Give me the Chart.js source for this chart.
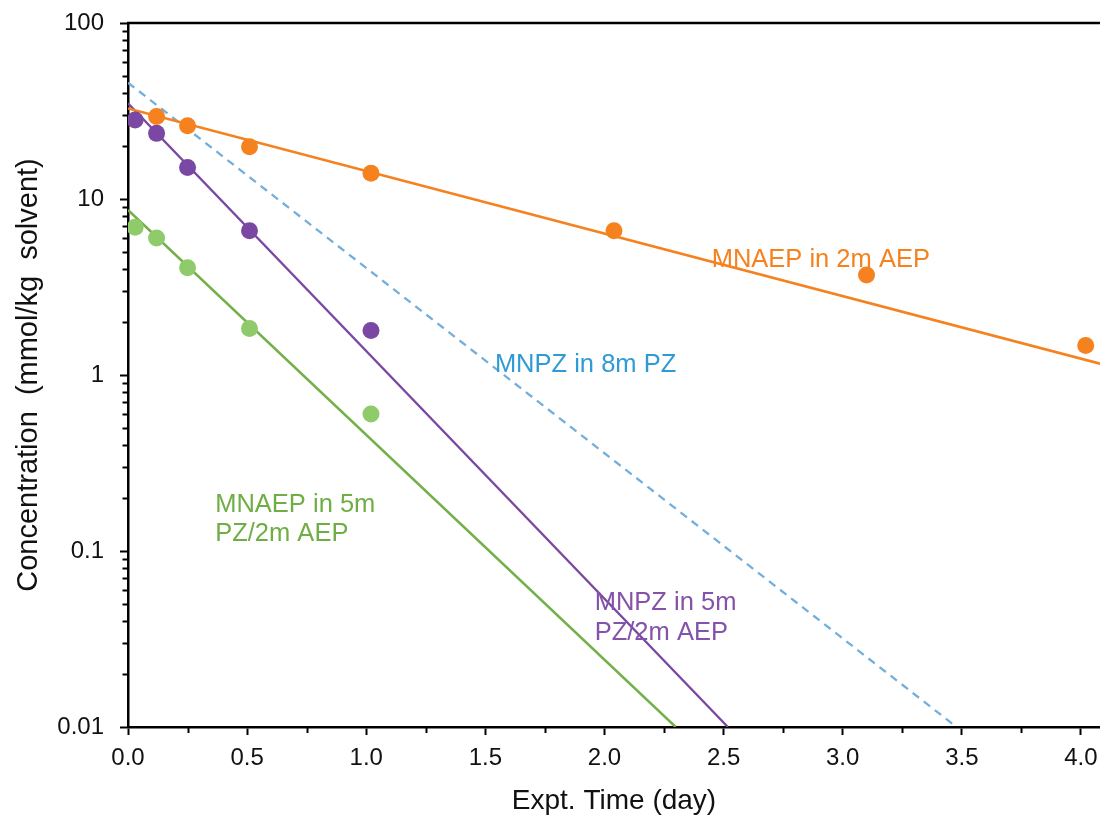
<!DOCTYPE html>
<html>
<head>
<meta charset="utf-8">
<script src="https://cdn.jsdelivr.net/npm/chart.js@4.4.1/dist/chart.umd.min.js"></script>
<style>
  html, body { margin: 0; padding: 0; background: #fff; }
  #wrap { width: 1100px; height: 816px; }
</style>
</head>
<body>
<div id="wrap"><canvas id="decayChart" width="1100" height="816"></canvas></div>
<script>
// measured points
const daysAep = [0.12, 0.25, 0.51, 1.02, 2.04, 3.10, 4.02];
const mnaepInAep = [29.4, 26.1, 19.8, 14.0, 6.6, 3.7, 1.47];
const daysBlend = [0.03, 0.12, 0.25, 0.51, 1.02];
const mnpzInBlend = [28.1, 23.6, 15.1, 6.6, 1.79];
const mnaepInBlend = [6.9, 6.0, 4.07, 1.84, 0.60];

// first-order fit lines (start / end)
const fitAepX = [0, 4.08];
const fitAepY = [32.7, 1.16];
const fitMnpzBlendX = [0, 2.518];
const fitMnpzBlendY = [35.0, 0.01];
const fitMnaepBlendX = [0, 2.299];
const fitMnaepBlendY = [8.66, 0.01];
const fitMnpzPzX = [0, 3.478];
const fitMnpzPzY = [45.8, 0.01];

// axis ticks
const xTicks = [0, 0.25, 0.5, 0.75, 1, 1.25, 1.5, 1.75, 2, 2.25, 2.5, 2.75, 3, 3.25, 3.5, 3.75, 4];
const yDecades = [0.01, 0.1, 1, 10, 100];

// curve labels
const labelText = [
    ["MNAEP in 2m AEP"],
    ["MNPZ in 8m PZ"],
    ["MNAEP in 5m", "PZ/2m AEP"],
    ["MNPZ in 5m", "PZ/2m AEP"]
];
const labelDay = [2.45, 1.54, 0.366, 1.959];
const labelConc = [4.11, 1.045, 0.1666, 0.0462];

const ORANGE = "#F5821F";
const PURPLE = "#7A48A2";
const GREEN_PT = "#8FCB6B";
const GREEN_LN = "#74B04A";
const BLUE_LN = "#74AEDB";
const labelColors = [ORANGE, "#2F9BD5", "#6FAE45", "#8452AA"];

const FONT = "'Liberation Sans', Arial, sans-serif";

const pts = (xs, ys) => xs.map((x, i) => ({ x: x, y: ys[i] }));

function isDecade(v) {
    const l = Math.log10(v);
    return Math.abs(l - Math.round(l)) < 1e-9;
}

const isHalf = v => Math.abs(v * 2 - Math.round(v * 2)) < 1e-9;

function fitLine(xs, ys, color, width, dash) {
    return {
        type: "line",
        data: pts(xs, ys),
        borderColor: color,
        borderWidth: width,
        borderDash: dash || [],
        pointRadius: 0,
        fill: false,
        order: 2
    };
}

function dots(xs, ys, color) {
    return {
        type: "scatter",
        data: pts(xs, ys),
        backgroundColor: color,
        borderColor: color,
        pointRadius: 8.5,
        pointBorderWidth: 0,
        order: 1
    };
}

// short minor ticks, top frame line and curve labels
const extras = {
    id: "extras",
    afterDraw(chart) {
        const ctx = chart.ctx;
        const area = chart.chartArea;
        const xs = chart.scales.x;
        const ys = chart.scales.y;
        ctx.save();
        ctx.strokeStyle = "#000";
        ctx.lineWidth = 2;
        ys.ticks.forEach(t => {
            if (isDecade(t.value)) return;
            const py = Math.round(ys.getPixelForValue(t.value)) + 0.5;
            ctx.beginPath();
            ctx.moveTo(area.left - 5.5, py);
            ctx.lineTo(area.left, py);
            ctx.stroke();
        });
        xs.ticks.forEach(t => {
            if (isHalf(t.value)) return;
            const px = Math.round(xs.getPixelForValue(t.value)) + 0.5;
            ctx.beginPath();
            ctx.moveTo(px, area.bottom);
            ctx.lineTo(px, area.bottom + 6);
            ctx.stroke();
        });
        ctx.lineWidth = 2.5;
        ctx.beginPath();
        ctx.moveTo(area.left - 1, area.top);
        ctx.lineTo(area.right, area.top);
        ctx.stroke();

        ctx.font = "25.5px " + FONT;
        ctx.textAlign = "left";
        ctx.textBaseline = "alphabetic";
        labelText.forEach((lines, i) => {
            const px = xs.getPixelForValue(labelDay[i]);
            const py = ys.getPixelForValue(labelConc[i]);
            ctx.fillStyle = labelColors[i];
            lines.forEach((s, j) => ctx.fillText(s, px, py + j * 29.5));
        });
        ctx.restore();
    }
};

new Chart(document.getElementById("decayChart"), {
    type: "scatter",
    data: {
        datasets: [
            dots(daysAep, mnaepInAep, ORANGE),
            dots(daysBlend, mnpzInBlend, PURPLE),
            dots(daysBlend, mnaepInBlend, GREEN_PT),
            fitLine(fitAepX, fitAepY, ORANGE, 2.6),
            fitLine(fitMnpzBlendX, fitMnpzBlendY, PURPLE, 2.3),
            fitLine(fitMnaepBlendX, fitMnaepBlendY, GREEN_LN, 2.5),
            fitLine(fitMnpzPzX, fitMnpzPzY, BLUE_LN, 2.3, [8, 6])
        ]
    },
    options: {
        responsive: false,
        animation: false,
        layout: { autoPadding: false, padding: { top: 23, right: 0, left: 0, bottom: 0 } },
        plugins: {
            legend: { display: false },
            tooltip: { enabled: false }
        },
        scales: {
            x: {
                type: "linear",
                min: 0,
                max: 4.08,
                afterBuildTicks: s => { s.ticks = xTicks.map(v => ({ value: v })); },
                afterFit: s => { s.height = 89; s.paddingLeft = 0; s.paddingRight = 0; },
                grid: {
                    drawOnChartArea: false,
                    tickLength: 8,
                    tickWidth: 2,
                    tickColor: c => (isHalf(c.tick.value) ? "#000" : "rgba(0,0,0,0)")
                },
                border: { display: true, color: "#000", width: 2.5 },
                ticks: {
                    color: "#111",
                    font: { family: FONT, size: 24 },
                    padding: 9,
                    maxRotation: 0,
                    autoSkip: false,
                    callback: v => (isHalf(v) ? v.toFixed(1) : "")
                },
                title: {
                    display: true,
                    text: "Expt. Time (day)",
                    color: "#111",
                    font: { family: FONT, size: 28 },
                    padding: { top: 4, bottom: -2 }
                }
            },
            y: {
                type: "logarithmic",
                min: 0.01,
                max: 100,
                afterBuildTicks: s => {
                    const list = [];
                    yDecades.forEach((d, i) => {
                        if (i === yDecades.length - 1) { list.push({ value: d }); return; }
                        for (let k = 1; k <= 9; k++) list.push({ value: k * d });
                    });
                    s.ticks = list;
                },
                afterFit: s => { s.width = 128; s.paddingTop = 0; s.paddingBottom = 0; },
                grid: {
                    drawOnChartArea: false,
                    tickLength: 8,
                    tickWidth: 2,
                    tickColor: c => (isDecade(c.tick.value) ? "#000" : "rgba(0,0,0,0)")
                },
                border: { display: true, color: "#000", width: 2.5 },
                ticks: {
                    color: "#111",
                    font: { family: FONT, size: 24 },
                    padding: 16,
                    autoSkip: false,
                    callback: v => {
                        const hit = yDecades.find(d => Math.abs(d - v) / d < 1e-6);
                        return hit === undefined ? "" : String(hit);
                    }
                },
                title: {
                    display: true,
                    text: "Concentration  (mmol/kg  solvent)",
                    color: "#111",
                    font: { family: FONT, size: 29 },
                    padding: { top: 12, bottom: 0 }
                }
            }
        }
    },
    plugins: [extras]
});
</script>
</body>
</html>
